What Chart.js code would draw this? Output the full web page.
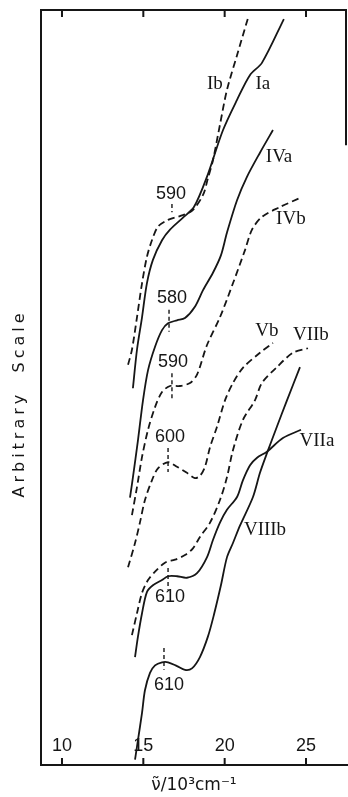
<!DOCTYPE html>
<html>
<head>
<meta charset="utf-8">
<script src="https://cdn.jsdelivr.net/npm/chart.js@4/dist/chart.umd.min.js"></script>
<style>
  html, body { margin: 0; padding: 0; background: #fff; }
  canvas { display: block; }
</style>
</head>
<body>
<canvas id="chart" width="348" height="797"></canvas>
<script>
// --- DATA: wavenumber (10^3 cm-1) vs arbitrary scale (0-100) ---
const xTicks = [10, 15, 20, 25];

const iaX = [14.36, 14.61, 14.92, 15.22, 15.59, 16.15, 16.64, 17.44, 18.11, 18.91, 19.90, 20.76, 21.56, 22.29, 23.64];
const iaY = [49.9, 55.0, 59.3, 63.8, 66.9, 69.5, 70.9, 72.5, 73.9, 77.9, 84.1, 88.1, 91.4, 93.0, 98.8];

const ibX = [14.06, 14.30, 14.61, 14.92, 15.22, 15.53, 15.90, 16.52, 17.25, 17.99, 18.67, 18.97, 19.28, 19.71, 20.14, 20.76, 21.43];
const ibY = [53.0, 55.0, 59.3, 63.8, 67.3, 69.5, 71.3, 72.2, 72.7, 73.4, 75.5, 77.7, 80.1, 84.8, 89.4, 94.0, 98.9];

const ivaX = [14.18, 14.36, 14.67, 14.98, 15.29, 15.72, 16.15, 16.52, 17.07, 17.56, 18.17, 18.67, 19.28, 19.77, 20.14, 20.76, 21.37, 22.17, 22.97];
const ivaY = [35.4, 38.1, 43.0, 48.3, 52.3, 55.4, 57.6, 58.5, 58.9, 59.2, 60.7, 62.9, 65.2, 67.5, 70.5, 74.8, 77.9, 81.1, 84.1];

const ivbX = [14.30, 14.61, 14.92, 15.29, 15.72, 16.15, 16.64, 17.25, 17.87, 18.30, 18.91, 19.71, 20.51, 21.25, 21.68, 22.29, 23.40, 24.63];
const ivbY = [33.1, 36.8, 40.8, 44.4, 47.4, 49.4, 50.2, 50.2, 50.6, 51.7, 55.6, 59.3, 63.8, 68.2, 70.9, 72.6, 73.9, 75.1];

const vbX = [14.06, 14.49, 14.79, 15.10, 15.53, 15.90, 16.52, 17.07, 17.68, 18.17, 18.48, 18.79, 19.10, 19.53, 20.02, 20.51, 21.12, 22.17, 22.97];
const vbY = [26.2, 29.4, 32.1, 35.1, 37.7, 39.3, 40.1, 39.5, 38.7, 38.0, 38.3, 39.5, 42.1, 44.8, 48.3, 50.6, 52.6, 54.6, 55.9];

const viibX = [14.30, 14.61, 14.92, 15.29, 15.72, 16.33, 16.95, 17.56, 18.05, 18.48, 19.10, 19.71, 20.14, 20.51, 21.12, 21.86, 22.29, 23.21, 24.20, 25.12];
const viibY = [17.2, 20.1, 22.8, 24.5, 25.6, 26.8, 27.2, 27.8, 28.7, 30.2, 32.1, 35.1, 38.1, 41.7, 45.7, 48.3, 50.6, 52.7, 54.6, 55.2];

const viiaX = [14.49, 14.67, 14.92, 15.22, 15.59, 16.15, 16.52, 17.07, 17.68, 18.30, 18.91, 19.28, 19.71, 20.14, 20.76, 21.12, 21.56, 21.99, 22.60, 23.58, 24.69];
const viiaY = [14.3, 17.0, 20.1, 22.9, 23.8, 24.5, 25.0, 25.0, 24.8, 25.4, 27.5, 29.8, 32.1, 33.8, 35.5, 37.7, 39.7, 40.7, 41.5, 43.3, 44.4];

const viiibX = [14.49, 14.67, 14.92, 15.10, 15.41, 15.72, 16.15, 16.52, 17.07, 17.56, 17.99, 18.48, 18.97, 19.34, 19.77, 20.14, 20.51, 20.94, 21.74, 22.17, 22.60, 23.21, 23.83, 24.63];
const viiibY = [0.7, 3.3, 6.9, 9.9, 12.2, 13.2, 13.6, 13.6, 13.1, 12.6, 12.8, 14.3, 17.0, 19.9, 23.8, 27.5, 29.4, 31.7, 35.5, 38.7, 41.3, 44.8, 48.3, 52.7];

// curve names and where they sit
const curveNames = ['Ib', 'Ia', 'IVa', 'IVb', 'Vb', 'VIIb', 'VIIa', 'VIIIb'];
const curveNameX = [19.40, 22.35, 23.34, 24.07, 22.60, 25.30, 25.67, 22.48];
const curveNameY = [90.2, 90.2, 80.5, 72.3, 57.5, 57.0, 42.9, 31.1];

// peak marks (nm) with short vertical ticks
const peakNames = ['590', '580', '590', '600', '610', '610'];
const peakLabelX = [16.70, 16.76, 16.82, 16.64, 16.64, 16.58];
const peakLabelY = [75.6, 61.9, 53.4, 43.4, 22.3, 10.6];
const peakX = [16.76, 16.58, 16.76, 16.52, 16.52, 16.27];
const peakTop = [74.3, 60.3, 51.9, 42.0, 26.1, 15.5];
const peakBottom = [73.2, 57.4, 48.3, 38.8, 23.2, 12.6];

const rightEdgeEnd = 82.1;   // the frame's right edge only runs this far down

const ink = '#161616';
const pts = (xs, ys) => xs.map((v, i) => ({ x: v, y: ys[i] }));

function curve(xs, ys, dashed) {
    return {
        data: pts(xs, ys),
        borderColor: ink,
        borderWidth: 1.8,
        borderDash: dashed ? [7, 4] : [],
        pointRadius: 0,
        tension: 0.3,
        fill: false
    };
}

const datasets = [
    curve(iaX, iaY, false),
    curve(ibX, ibY, true),
    curve(ivaX, ivaY, false),
    curve(ivbX, ivbY, true),
    curve(vbX, vbY, true),
    curve(viibX, viibY, true),
    curve(viiaX, viiaY, false),
    curve(viiibX, viiibY, false)
];

peakX.forEach((px, i) => {
    datasets.push({
        data: [{ x: px, y: peakTop[i] }, { x: px, y: peakBottom[i] }],
        borderColor: ink,
        borderWidth: 1.4,
        borderDash: [4, 3],
        pointRadius: 0,
        fill: false
    });
});

// --- frame extras, in-plot text, y title ---
const decorations = {
    id: 'decorations',
    afterDraw(chart) {
        const { ctx, chartArea: a, scales: { x, y } } = chart;
        ctx.save();
        ctx.strokeStyle = ink;
        ctx.lineWidth = 2;
        ctx.beginPath();
        ctx.moveTo(a.left, a.top);
        ctx.lineTo(a.right, a.top);
        ctx.moveTo(a.right - 1, a.top);
        ctx.lineTo(a.right - 1, y.getPixelForValue(rightEdgeEnd));
        xTicks.forEach(v => {
            const px = x.getPixelForValue(v);
            ctx.moveTo(px, a.top);
            ctx.lineTo(px, a.top + 7);
            ctx.moveTo(px, a.bottom);
            ctx.lineTo(px, a.bottom - 7);
        });
        ctx.stroke();

        ctx.fillStyle = ink;
        ctx.textAlign = 'center';
        ctx.textBaseline = 'middle';

        ctx.font = '19px "Liberation Serif"';
        curveNames.forEach((t, i) => {
            ctx.fillText(t, x.getPixelForValue(curveNameX[i]), y.getPixelForValue(curveNameY[i]));
        });

        ctx.font = '18px "Liberation Sans"';
        peakNames.forEach((t, i) => {
            ctx.fillText(t, x.getPixelForValue(peakLabelX[i]), y.getPixelForValue(peakLabelY[i]));
        });

        ctx.translate(20, (a.top + a.bottom) / 2 + 16);
        ctx.rotate(-Math.PI / 2);
        ctx.font = '16px "DejaVu Sans"';
        ctx.letterSpacing = '4px';
        ctx.fillText('Arbitrary  Scale', 0, 0);
        ctx.restore();
    }
};

new Chart(document.getElementById('chart').getContext('2d'), {
    type: 'line',
    data: { datasets },
    options: {
        responsive: false,
        animation: false,
        devicePixelRatio: 1,
        layout: { padding: { left: 41, right: 1, top: 10, bottom: 0 } },
        plugins: { legend: { display: false }, tooltip: { enabled: false } },
        scales: {
            x: {
                type: 'linear',
                min: 8.71,
                max: 27.52,
                afterBuildTicks: s => { s.ticks = xTicks.map(v => ({ value: v })); },
                afterFit: s => { s.height = 32; },
                grid: { display: false },
                border: { display: true, color: ink, width: 2 },
                ticks: {
                    mirror: true,
                    padding: 8,
                    color: ink,
                    font: { family: 'Liberation Sans', size: 18 }
                },
                title: {
                    display: true,
                    text: 'ν\u0303/10\u00B3cm\u207B\u00B9',
                    color: ink,
                    font: { family: 'DejaVu Sans', size: 17 },
                    padding: { top: 0, bottom: 1 }
                }
            },
            y: {
                min: 0,
                max: 100,
                afterFit: s => { s.width = 0; },
                grid: { display: false },
                border: { display: true, color: ink, width: 2 },
                ticks: { display: false }
            }
        }
    },
    plugins: [decorations]
});
</script>
</body>
</html>
